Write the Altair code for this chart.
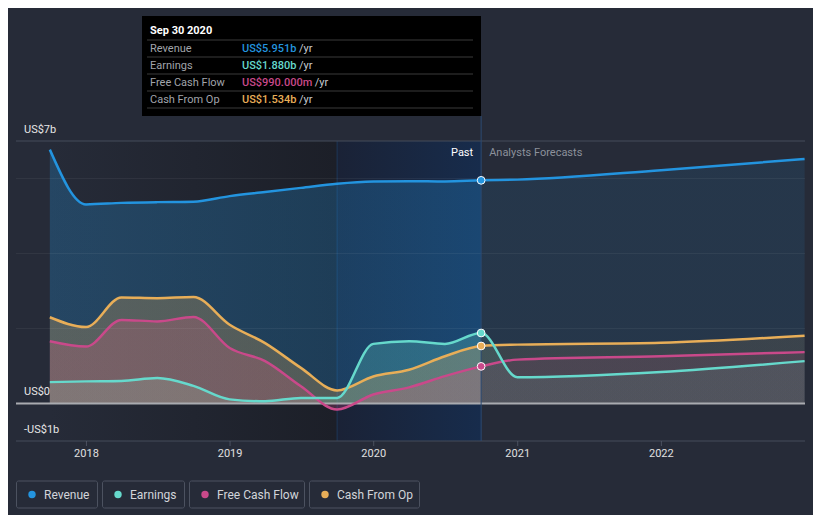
import altair as alt
import pandas as pd

# ---------------- data ----------------
dates = ["2017-09-30", "2017-12-31", "2018-03-31", "2018-06-30", "2018-09-30",
         "2018-12-31", "2019-03-31", "2019-06-30", "2019-09-30", "2019-12-31",
         "2020-03-31", "2020-06-30", "2020-09-30", "2020-12-31", "2021-12-31",
         "2022-12-31"]
revenue = [6.77, 5.31, 5.35, 5.37, 5.38, 5.53, 5.64, 5.75, 5.86, 5.92, 5.93, 5.92, 5.951,
           5.97, 6.22, 6.52]
earnings = [0.57, 0.59, 0.60, 0.68, 0.47, 0.11, 0.06, 0.15, 0.15, 1.59, 1.66, 1.59, 1.880,
            0.70, 0.84, 1.13]
free_cash_flow = [1.66, 1.52, 2.23, 2.19, 2.31, 1.48, 1.13, 0.46, -0.16, 0.24, 0.43, 0.73, 0.990,
                  1.17, 1.26, 1.37]
cash_from_op = [2.30, 2.04, 2.83, 2.81, 2.84, 2.10, 1.61, 0.95, 0.35, 0.72, 0.90, 1.26, 1.534,
                1.57, 1.62, 1.81]

series_names = ["Revenue", "Earnings", "Free Cash Flow", "Cash From Op"]
series_values = [revenue, earnings, free_cash_flow, cash_from_op]
series_colors = ["#2394df", "#66d9cc", "#c9498a", "#e8ae58"]

tooltip_date = "2020-09-30"
tooltip_title = "Sep 30 2020"
tooltip_texts = ["US$5.951b", "US$1.880b", "US$990.000m", "US$1.534b"]

y_label_values = [7, 0, -1]
y_label_texts = ["US$7b", "US$0", "-US$1b"]
grid_values = [2, 4, 6]
year_ticks = [2018, 2019, 2020, 2021, 2022]

highlight_start = "2019-09-30"
data_start = "2017-09-30"

# ---------------- style ----------------
BG = "#262b38"
FONT = "Roboto"
W, H = 789, 300

X_SCALE = alt.Scale(domain=[alt.DateTime(year=2017, month=7, date=6),
                            alt.DateTime(year=2023, month=1, date=1)])
Y_SCALE = alt.Scale(domain=[-1, 7])


def xe(field="date"):
    return alt.X(f"{field}:T", scale=X_SCALE, axis=None)


def ye(field="value"):
    return alt.Y(f"{field}:Q", scale=Y_SCALE, axis=None)


def rgba(hex_color, a):
    h = hex_color.lstrip("#")
    r, g, b = int(h[0:2], 16), int(h[2:4], 16), int(h[4:6], 16)
    return f"rgba({r},{g},{b},{a})"


CHAR_W = {"U": 7.1, "S": 6.7, "$": 6.2, ".": 2.9, "b": 6.2, "m": 9.6}


def text_width(s):
    return sum(CHAR_W.get(c, 6.2) for c in s)


one = pd.DataFrame({"a": [0]})
layers = []

# background bands
bands = pd.DataFrame({"start": [data_start], "end": [highlight_start]})
layers.append(alt.Chart(bands).mark_rect(
    color=alt.Gradient(gradient="linear", x1=0, x2=1, y1=0, y2=0,
                       stops=[alt.GradientStop(color=BG, offset=0),
                              alt.GradientStop(color="#1c1f28", offset=1)])
).encode(x=xe("start"), x2="end:T", y=alt.value(0), y2=alt.value(H)))

blue = pd.DataFrame({"start": [highlight_start], "end": [tooltip_date]})
layers.append(alt.Chart(blue).mark_rect(
    color=alt.Gradient(gradient="linear", x1=0, x2=1, y1=0, y2=0,
                       stops=[alt.GradientStop(color="#1a2236", offset=0),
                              alt.GradientStop(color="#172c4c", offset=1)])
).encode(x=xe("start"), x2="end:T", y=alt.value(0), y2=alt.value(H)))

layers.append(alt.Chart(pd.DataFrame({"date": [highlight_start]})).mark_rule(
    color="#1e3658", strokeWidth=1).encode(x=xe(), y=alt.value(0), y2=alt.value(H)))

# top and bottom border lines
layers.append(alt.Chart(pd.DataFrame({"value": [7, -1]})).mark_rule(
    color="#454c5a", strokeWidth=1).encode(y=ye(), x=alt.value(0), x2=alt.value(W)))

years_df = pd.DataFrame({"date": [f"{y}-01-01" for y in year_ticks]})
layers.append(alt.Chart(years_df).mark_tick(
    color="#5a6170", orient="vertical", size=5, thickness=1).encode(
    x=xe(), y=alt.value(H + 2.5)))
layers.append(alt.Chart(years_df).mark_text(
    color="#e0e0e0", font=FONT, fontSize=11, baseline="middle", align="center").encode(
    x=xe(), y=alt.value(H + 13), text=alt.Text("date:T", timeUnit="year", format="%Y")))

# areas: stronger fill in the past, lighter fill for forecasts
split = 12 / 21.0  # fraction of the data span (quarters) at the past/forecast boundary
for name, vals, col in zip(series_names, series_values, series_colors):
    d = pd.DataFrame({"date": dates, "value": vals})
    layers.append(alt.Chart(d).mark_area(
        interpolate="monotone",
        color=alt.Gradient(gradient="linear", x1=0, x2=1, y1=0, y2=0,
                           stops=[alt.GradientStop(color=rgba(col, 0.26), offset=0),
                                  alt.GradientStop(color=rgba(col, 0.26), offset=split),
                                  alt.GradientStop(color=rgba(col, 0.11), offset=split + 0.0005),
                                  alt.GradientStop(color=rgba(col, 0.11), offset=1)])
    ).encode(x=xe(), y=ye()))

# grid lines on top of areas
layers.append(alt.Chart(pd.DataFrame({"value": grid_values})).mark_rule(
    color="rgba(255,255,255,0.055)", strokeWidth=1).encode(
    y=ye(), x=alt.value(0), x2=alt.value(W)))

# zero line
layers.append(alt.Chart(pd.DataFrame({"value": [0]})).mark_rule(
    color="#a9abb0", strokeWidth=2).encode(y=ye(), x=alt.value(0), x2=alt.value(W)))

# vertical "now" line
layers.append(alt.Chart(pd.DataFrame({"date": [tooltip_date]})).mark_rule(
    color="#2b4a72", strokeWidth=1).encode(x=xe(), y=alt.value(-25), y2=alt.value(H)))

# lines
for name, vals, col in zip(series_names[::-1], series_values[::-1], series_colors[::-1]):
    d = pd.DataFrame({"date": dates, "value": vals})
    layers.append(alt.Chart(d).mark_line(
        interpolate="monotone", color=col, strokeWidth=2.5).encode(x=xe(), y=ye()))

# points at tooltip date
for name, vals, col in zip(series_names, series_values, series_colors):
    v = vals[dates.index(tooltip_date)]
    d = pd.DataFrame({"date": [tooltip_date], "value": [v]})
    layers.append(alt.Chart(d).mark_point(
        filled=True, fill=col, stroke="white", strokeWidth=1, size=60, opacity=1).encode(
        x=xe(), y=ye()))

# Past / Analysts Forecasts
pd_now = pd.DataFrame({"date": [tooltip_date]})
layers.append(alt.Chart(pd_now).mark_text(
    text="Past", color="#ffffff", font=FONT, fontSize=11, align="right",
    baseline="middle", dx=-8).encode(x=xe(), y=alt.value(12)))
layers.append(alt.Chart(pd_now).mark_text(
    text="Analysts Forecasts", color="#8c919b", font=FONT, fontSize=11, align="left",
    baseline="middle", dx=8).encode(x=xe(), y=alt.value(12)))

# y labels
layers.append(alt.Chart(pd.DataFrame({"value": y_label_values, "label": y_label_texts})).mark_text(
    color="#e6e6e6", font=FONT, fontSize=11, align="left", baseline="middle", dy=-11.5).encode(
    y=ye(), x=alt.value(8), text="label:N"))

# tooltip box
TX0, TX1, TY0, TY1 = 126, 465, -125, -25
layers.append(alt.Chart(one).mark_rect(color="#000000").encode(
    x=alt.value(TX0), x2=alt.value(TX1), y=alt.value(TY0), y2=alt.value(TY1)))
layers.append(alt.Chart(one).mark_text(
    text=tooltip_title, color="#ffffff", font=FONT, fontSize=11, fontWeight="bold",
    align="left", baseline="middle").encode(x=alt.value(TX0 + 8), y=alt.value(TY0 + 15)))
for i in range(5):
    sy = TY0 + 24 + 17 * i
    layers.append(alt.Chart(one).mark_rule(color="#3a3a3a", strokeWidth=1).encode(
        x=alt.value(TX0 + 5), x2=alt.value(TX1 - 8), y=alt.value(sy)))
for i, (name, txt, col) in enumerate(zip(series_names, tooltip_texts, series_colors)):
    ry = TY0 + 32.5 + 17 * i
    layers.append(alt.Chart(one).mark_text(
        text=name, color="#a0a4ab", font=FONT, fontSize=11, align="left",
        baseline="middle").encode(x=alt.value(TX0 + 8), y=alt.value(ry)))
    layers.append(alt.Chart(one).mark_text(
        text=txt, color=col, font=FONT, fontSize=11, fontWeight=500, align="left",
        baseline="middle").encode(x=alt.value(TX0 + 100), y=alt.value(ry)))
    layers.append(alt.Chart(one).mark_text(
        text="/yr", color="#c8cbd0", font=FONT, fontSize=11, align="left",
        baseline="middle").encode(x=alt.value(TX0 + 100 + text_width(txt) + 3), y=alt.value(ry)))

# legend
box_x = [(0, 81), (86, 168), (173, 288), (293, 403)]
LY0, LY1 = 340, 367
for (bx0, bx1), name, col in zip(box_x, series_names, series_colors):
    layers.append(alt.Chart(one).mark_rect(
        fill=BG, stroke="#4c5260", strokeWidth=1, cornerRadius=2).encode(
        x=alt.value(bx0 + 0.5), x2=alt.value(bx1 + 0.5), y=alt.value(LY0), y2=alt.value(LY1)))
    layers.append(alt.Chart(one).mark_point(
        filled=True, color=col, size=55, opacity=1).encode(
        x=alt.value(bx0 + 16), y=alt.value((LY0 + LY1) / 2)))
    layers.append(alt.Chart(one).mark_text(
        text=name, color="#d2d5da", font=FONT, fontSize=12, align="left",
        baseline="middle").encode(x=alt.value(bx0 + 28), y=alt.value((LY0 + LY1) / 2)))

chart = alt.layer(*layers).properties(
    width=W, height=H,
    padding={"left": 8, "top": 133, "right": 8, "bottom": 74},
    autosize=alt.AutoSizeParams(type="none"),
    background=BG,
).configure_view(stroke=None)

chart.save("out.html", embed_options={"renderer": "svg", "actions": False})
